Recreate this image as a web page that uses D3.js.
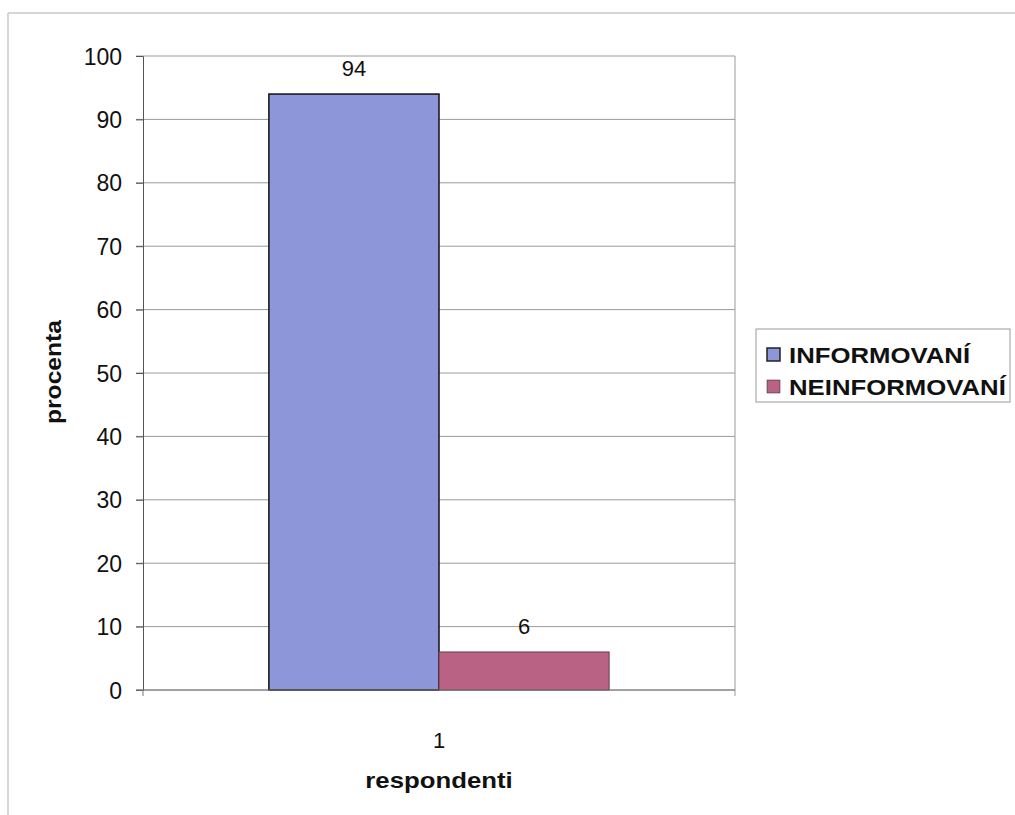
<!DOCTYPE html>
<html>
<head>
<meta charset="utf-8">
<script src="https://cdn.jsdelivr.net/npm/d3@7"></script>
<style>
  html, body { margin: 0; padding: 0; background: #fff; }
  svg { display: block; font-family: Arial, "Liberation Sans", sans-serif; }
</style>
</head>
<body>
<svg id="chart" width="1015" height="815"></svg>
<script>
// Data
const categories = ["1"];
const seriesNames = ["INFORMOVANÍ", "NEINFORMOVANÍ"];
const seriesValues = [94, 6];
const seriesColors = ["#8e96da", "#b96284"];
const yTicks = [0, 10, 20, 30, 40, 50, 60, 70, 80, 90, 100];

const svg = d3.select("#chart");

// Outer chart frame (top and left edges)
svg.append("line").attr("x1", 8).attr("x2", 1015).attr("y1", 13).attr("y2", 13)
  .attr("stroke", "#c8c8c8").attr("stroke-width", 1.5);
svg.append("line").attr("x1", 8).attr("x2", 8).attr("y1", 13).attr("y2", 815)
  .attr("stroke", "#c8c8c8").attr("stroke-width", 1.5);

const plot = { left: 143, right: 735, top: 56, bottom: 690 };

const y = d3.scaleLinear().domain([0, 100]).range([plot.bottom, plot.top]);
const x = d3.scaleBand().domain(categories).range([plot.left, plot.right]).paddingInner(0).paddingOuter(0.37);
const xs = d3.scaleBand().domain(seriesNames).range([0, x.bandwidth()]);

// Gridlines
svg.append("g").selectAll("line").data(yTicks).join("line")
  .attr("x1", plot.left - 7).attr("x2", plot.right)
  .attr("y1", d => y(d)).attr("y2", d => y(d))
  .attr("stroke", "#9a9a9a").attr("stroke-width", 1);

// Plot area right edge
svg.append("line").attr("x1", plot.right).attr("x2", plot.right)
  .attr("y1", plot.top).attr("y2", plot.bottom + 6)
  .attr("stroke", "#9a9a9a").attr("stroke-width", 1);

// Y axis
const yAxis = svg.append("g").attr("transform", `translate(${plot.left},0)`)
  .call(d3.axisLeft(y).tickValues(yTicks).tickSize(7).tickPadding(14));
yAxis.select(".domain").attr("stroke", "#555");
yAxis.selectAll(".tick line").attr("stroke", "#555");
yAxis.selectAll("text").attr("font-size", 23).attr("fill", "#111").attr("dy", "0.35em");

// Bars
const bars = svg.append("g");
categories.forEach(c => {
  seriesNames.forEach((s, i) => {
    bars.append("rect")
      .attr("x", x(c) + xs(s))
      .attr("y", y(seriesValues[i]))
      .attr("width", xs.bandwidth())
      .attr("height", y(0) - y(seriesValues[i]))
      .attr("fill", seriesColors[i])
      .attr("stroke", i === 0 ? "#111" : "#6a3a4c")
      .attr("stroke-width", i === 0 ? 1.5 : 1);
    bars.append("text")
      .attr("x", x(c) + xs(s) + xs.bandwidth() / 2)
      .attr("y", y(seriesValues[i]) - 18)
      .attr("text-anchor", "middle")
      .attr("font-size", 22).attr("fill", "#111")
      .text(seriesValues[i]);
  });
});

// X axis baseline
svg.append("line").attr("x1", plot.left - 7).attr("x2", plot.right)
  .attr("y1", plot.bottom).attr("y2", plot.bottom)
  .attr("stroke", "#777").attr("stroke-width", 1);
svg.append("line").attr("x1", plot.left).attr("x2", plot.left)
  .attr("y1", plot.bottom).attr("y2", plot.bottom + 6)
  .attr("stroke", "#777");

// Category labels
svg.append("g").selectAll("text").data(categories).join("text")
  .attr("x", d => x(d) + x.bandwidth() / 2)
  .attr("y", 748)
  .attr("text-anchor", "middle").attr("font-size", 22).attr("fill", "#111")
  .text(d => d);

// Axis titles (bold, slightly widened)
svg.append("text").attr("transform", "translate(439,788) scale(1.17,1)")
  .attr("text-anchor", "middle").attr("font-size", 22).attr("font-weight", "bold").attr("fill", "#111")
  .text("respondenti");
svg.append("text")
  .attr("transform", "translate(61,372) rotate(-90) scale(1.12,1)")
  .attr("text-anchor", "middle").attr("font-size", 22).attr("font-weight", "bold").attr("fill", "#111")
  .text("procenta");

// Legend
const legend = svg.append("g");
legend.append("rect").attr("x", 756).attr("y", 329).attr("width", 254).attr("height", 73)
  .attr("fill", "#fff").attr("stroke", "#999").attr("stroke-width", 1);
seriesNames.forEach((s, i) => {
  const ly = 354 + i * 32;
  legend.append("rect").attr("x", 767).attr("y", ly - 6).attr("width", 13).attr("height", 13)
    .attr("fill", seriesColors[i]).attr("stroke", "#222").attr("stroke-width", i === 0 ? 1.5 : 0.5);
  legend.append("text").attr("transform", `translate(789,${ly + 1}) scale(1.17,1)`).attr("dy", "0.36em")
    .attr("font-size", 22).attr("font-weight", "bold").attr("fill", "#111")
    .text(s);
});
</script>
</body>
</html>
